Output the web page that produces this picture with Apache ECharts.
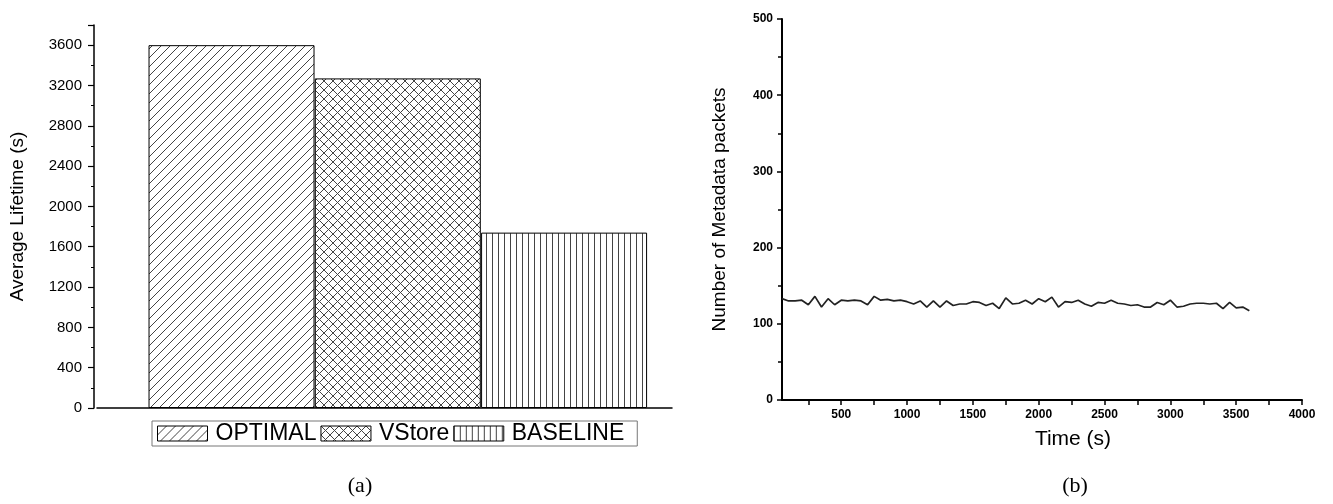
<!DOCTYPE html>
<html>
<head>
<meta charset="utf-8">
<script src="https://cdn.jsdelivr.net/npm/echarts@6/dist/echarts.min.js"></script>
<style>
  html, body { margin: 0; padding: 0; background: #fff; }
  #main { width: 1333px; height: 504px; }
</style>
</head>
<body>
<div id="main"></div>
<script>
// (a) bar chart data
const barNames = ['OPTIMAL', 'VStore', 'BASELINE'];
const barValues = [3600, 3270, 1740];

// (b) metadata packets over time
const timeValues = [
  50, 100, 150, 200, 250, 300, 350, 400, 450, 500,
  550, 600, 650, 700, 750, 800, 850, 900, 950, 1000,
  1050, 1100, 1150, 1200, 1250, 1300, 1350, 1400, 1450, 1500,
  1550, 1600, 1650, 1700, 1750, 1800, 1850, 1900, 1950, 2000,
  2050, 2100, 2150, 2200, 2250, 2300, 2350, 2400, 2450, 2500,
  2550, 2600, 2650, 2700, 2750, 2800, 2850, 2900, 2950, 3000,
  3050, 3100, 3150, 3200, 3250, 3300, 3350, 3400, 3450, 3500,
  3550, 3600
];
const packetValues = [
  133, 130, 130, 131, 125, 136, 122, 133, 125, 131,
  130, 131, 130, 125, 136, 131, 132, 130, 131, 129,
  126, 130, 122, 130, 122, 130, 124, 126, 126, 129,
  128, 124, 127, 120, 134, 126, 127, 131, 126, 133,
  129, 135, 122, 129, 128, 131, 126, 123, 128, 127,
  131, 127, 126, 124, 125, 122, 122, 128, 125, 131,
  122, 123, 126, 127, 127, 126, 127, 120, 128, 121,
  122, 117
];
const timeTicks = [250, 500, 750, 1000, 1250, 1500, 1750, 2000, 2250, 2500, 2750, 3000, 3250, 3500, 3750, 4000];
const timeLabels = [500, 1000, 1500, 2000, 2500, 3000, 3500, 4000];

// hatch patterns
function makePattern(w, h, draw) {
    const c = document.createElement('canvas');
    c.width = w;
    c.height = h;
    const ctx = c.getContext('2d');
    ctx.fillStyle = '#fff';
    ctx.fillRect(0, 0, w, h);
    ctx.strokeStyle = '#444';
    ctx.lineWidth = 1;
    draw(ctx, w, h);
    return { image: c, repeat: 'repeat' };
}
const diagPattern = makePattern(9, 9, (ctx, w, h) => {
    ctx.beginPath();
    ctx.moveTo(-1, h + 1); ctx.lineTo(w + 1, -1);
    ctx.moveTo(-1, 1); ctx.lineTo(1, -1);
    ctx.moveTo(w - 1, h + 1); ctx.lineTo(w + 1, h - 1);
    ctx.stroke();
});
const crossPattern = makePattern(9, 9, (ctx, w, h) => {
    ctx.beginPath();
    ctx.moveTo(-1, h + 1); ctx.lineTo(w + 1, -1);
    ctx.moveTo(-1, -1); ctx.lineTo(w + 1, h + 1);
    ctx.stroke();
});
const vertPattern = makePattern(6, 4, (ctx, w, h) => {
    ctx.beginPath();
    ctx.moveTo(0.5, 0); ctx.lineTo(0.5, h);
    ctx.stroke();
});
const patterns = [diagPattern, crossPattern, vertPattern];

const sansFont = 'Liberation Sans, Arial, sans-serif';
const plain = (v) => String(v);

let barSeries = [];
barNames.forEach((name, i) => {
    barSeries.push({
        name: name,
        type: 'bar',
        xAxisIndex: 0,
        yAxisIndex: 0,
        barWidth: 166,
        barGap: '-100%',
        itemStyle: {
            color: patterns[i],
            borderColor: '#000',
            borderWidth: 1
        },
        data: [[i, barValues[i]]]
    });
});

const chart = echarts.init(document.getElementById('main'));
const option = {
    animation: false,
    backgroundColor: '#fff',
    title: [
        { text: '(a)', left: 355, top: 470, textAlign: 'center',
          textStyle: { fontFamily: 'Liberation Serif, Times New Roman, serif', fontSize: 22, fontWeight: 'normal', color: '#000' } },
        { text: '(b)', left: 1070, top: 470, textAlign: 'center',
          textStyle: { fontFamily: 'Liberation Serif, Times New Roman, serif', fontSize: 22, fontWeight: 'normal', color: '#000' } }
    ],
    legend: {
        data: barNames,
        left: 152,
        top: 421,
        orient: 'horizontal',
        itemWidth: 50,
        itemHeight: 15,
        itemGap: 4,
        padding: [1, 13, 1, 5],
        borderColor: '#777',
        borderWidth: 1,
        icon: 'rect',
        itemStyle: { borderColor: '#000', borderWidth: 1 },
        textStyle: { fontFamily: sansFont, fontSize: 23, color: '#000', padding: [0, 0, 0, 3] }
    },
    grid: [
        { left: 97, top: 25, width: 575, height: 383 },
        { left: 782, top: 19, width: 520, height: 381 }
    ],
    xAxis: [
        {
            gridIndex: 0,
            type: 'value',
            min: -0.809,
            max: 2.649,
            axisLine: { show: true, onZero: false, lineStyle: { color: '#000', width: 1.5 } },
            axisTick: { show: false },
            axisLabel: { show: false },
            splitLine: { show: false }
        },
        {
            gridIndex: 1,
            type: 'value',
            min: 50,
            max: 4000,
            name: 'Time (s)',
            nameLocation: 'middle',
            nameGap: 29,
            nameTextStyle: { fontFamily: sansFont, fontSize: 21, color: '#000', padding: [0, 0, 0, 62] },
            axisLine: { show: true, onZero: false, lineStyle: { color: '#000', width: 2 } },
            axisTick: { show: true, inside: false, length: 5, customValues: timeTicks, lineStyle: { color: '#000', width: 1.5 } },
            axisLabel: { customValues: timeLabels, formatter: plain, margin: 9, fontFamily: sansFont, fontSize: 12, fontWeight: 'bold', color: '#000' },
            splitLine: { show: false }
        }
    ],
    yAxis: [
        {
            gridIndex: 0,
            type: 'value',
            min: 0,
            max: 3800,
            interval: 400,
            offset: 3,
            name: 'Average Lifetime (s)',
            nameLocation: 'middle',
            nameGap: 67,
            nameTextStyle: { fontFamily: sansFont, fontSize: 19, color: '#000' },
            axisLine: { show: true, onZero: false, lineStyle: { color: '#000', width: 1.5 } },
            axisTick: { show: true, inside: false, length: 6, lineStyle: { color: '#000', width: 1.2 } },
            minorTick: { show: true, splitNumber: 2, length: 3, lineStyle: { color: '#000', width: 1 } },
            axisLabel: { showMaxLabel: false, formatter: plain, margin: 12, fontFamily: sansFont, fontSize: 15, color: '#000' },
            splitLine: { show: false }
        },
        {
            gridIndex: 1,
            type: 'value',
            min: 0,
            max: 500,
            interval: 100,
            name: 'Number of Metadata packets',
            nameLocation: 'middle',
            nameGap: 53,
            nameTextStyle: { fontFamily: sansFont, fontSize: 19, color: '#000' },
            axisLine: { show: true, onZero: false, lineStyle: { color: '#000', width: 2 } },
            axisTick: { show: true, inside: false, length: 5, lineStyle: { color: '#000', width: 1.5 } },
            minorTick: { show: true, splitNumber: 2, length: 4, lineStyle: { color: '#000', width: 1.5 } },
            axisLabel: { formatter: plain, margin: 9, fontFamily: sansFont, fontSize: 12, fontWeight: 'bold', color: '#000' },
            splitLine: { show: false }
        }
    ],
    series: barSeries.concat([
        {
            name: 'packets',
            type: 'line',
            xAxisIndex: 1,
            yAxisIndex: 1,
            showSymbol: false,
            lineStyle: { color: '#222', width: 1.7 },
            data: timeValues.map((t, i) => [t, packetValues[i]])
        }
    ])
};
option && chart.setOption(option);
</script>
</body>
</html>
